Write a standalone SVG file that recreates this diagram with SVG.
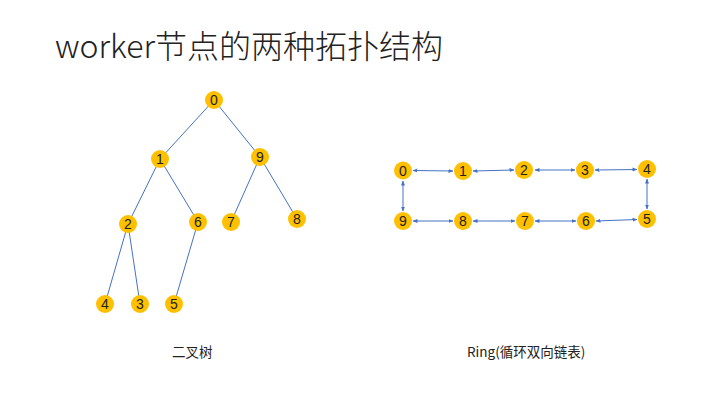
<svg xmlns="http://www.w3.org/2000/svg" width="720" height="405" viewBox="0 0 720 405">
<defs>
<marker id="ah" viewBox="0 0 10 10" refX="9" refY="5" markerWidth="5" markerHeight="5" orient="auto-start-reverse" markerUnits="userSpaceOnUse">
<path d="M0,1 L10,5 L0,9 z" fill="#4472C4"/>
</marker>
<style>
.n circle{fill:#FFC000}
.n text{font-family:"Liberation Sans",Arial,sans-serif;font-size:14px;fill:#222;text-anchor:middle;dominant-baseline:central}
.e line{stroke:#4472C4;stroke-width:1}
.a line{stroke:#4472C4;stroke-width:1;marker-start:url(#ah);marker-end:url(#ah)}
.t{font-family:"Noto Sans CJK SC","Noto Sans",sans-serif;fill:#222}
</style>
</defs>
<rect width="720" height="405" fill="#fff"/>
<text class="t" x="55" y="58" font-size="32" font-weight="300">worker节点的两种拓扑结构</text>
<text class="t" x="172" y="357" font-size="13.5">二叉树</text>
<text class="t" x="467" y="357" font-size="13.5">Ring(循环双向链表)</text>
<g id="tree-edges" class="e">
<line x1="214" y1="100" x2="160" y2="159"/>
<line x1="214" y1="100" x2="260" y2="157"/>
<line x1="160" y1="159" x2="128" y2="224"/>
<line x1="160" y1="159" x2="198" y2="222"/>
<line x1="260" y1="157" x2="231" y2="222"/>
<line x1="260" y1="157" x2="297" y2="219"/>
<line x1="128" y1="224" x2="105" y2="304"/>
<line x1="128" y1="224" x2="140" y2="304"/>
<line x1="198" y1="222" x2="174" y2="304"/>
</g>
<g id="ring-edges" class="a">
<line x1="413" y1="170.5" x2="453" y2="171"/>
<line x1="473" y1="171" x2="514" y2="170"/>
<line x1="535" y1="170" x2="575" y2="170"/>
<line x1="595" y1="170" x2="637" y2="169.5"/>
<line x1="647" y1="179" x2="647" y2="209"/>
<line x1="637" y1="219.5" x2="596" y2="221"/>
<line x1="576" y1="221" x2="535" y2="221"/>
<line x1="515" y1="221" x2="473" y2="221"/>
<line x1="453" y1="221" x2="413" y2="221"/>
<line x1="403" y1="211" x2="403" y2="181"/>
</g>
<g id="t0" class="n"><circle cx="214" cy="100" r="9"/><text x="214" y="100">0</text></g>
<g id="t1" class="n"><circle cx="160" cy="159" r="9"/><text x="160" y="159">1</text></g>
<g id="t9" class="n"><circle cx="260" cy="157" r="9"/><text x="260" y="157">9</text></g>
<g id="t2" class="n"><circle cx="128" cy="224" r="9"/><text x="128" y="224">2</text></g>
<g id="t6" class="n"><circle cx="198" cy="222" r="9"/><text x="198" y="222">6</text></g>
<g id="t7" class="n"><circle cx="231" cy="222" r="9"/><text x="231" y="222">7</text></g>
<g id="t8" class="n"><circle cx="297" cy="219" r="9"/><text x="297" y="219">8</text></g>
<g id="t4" class="n"><circle cx="105" cy="304" r="9"/><text x="105" y="304">4</text></g>
<g id="t3" class="n"><circle cx="140" cy="304" r="9"/><text x="140" y="304">3</text></g>
<g id="t5" class="n"><circle cx="174" cy="304" r="9"/><text x="174" y="304">5</text></g>
<g id="r0" class="n"><circle cx="403" cy="170.5" r="9"/><text x="403" y="170.5">0</text></g>
<g id="r1" class="n"><circle cx="463" cy="171" r="9"/><text x="463" y="171">1</text></g>
<g id="r2" class="n"><circle cx="524" cy="170" r="9"/><text x="524" y="170">2</text></g>
<g id="r3" class="n"><circle cx="585" cy="170" r="9"/><text x="585" y="170">3</text></g>
<g id="r4" class="n"><circle cx="647" cy="169" r="9"/><text x="647" y="169">4</text></g>
<g id="r5" class="n"><circle cx="647" cy="219" r="9"/><text x="647" y="219">5</text></g>
<g id="r6" class="n"><circle cx="586" cy="221" r="9"/><text x="586" y="221">6</text></g>
<g id="r7" class="n"><circle cx="525" cy="221" r="9"/><text x="525" y="221">7</text></g>
<g id="r8" class="n"><circle cx="463" cy="221" r="9"/><text x="463" y="221">8</text></g>
<g id="r9" class="n"><circle cx="403" cy="221" r="9"/><text x="403" y="221">9</text></g>
</svg>
